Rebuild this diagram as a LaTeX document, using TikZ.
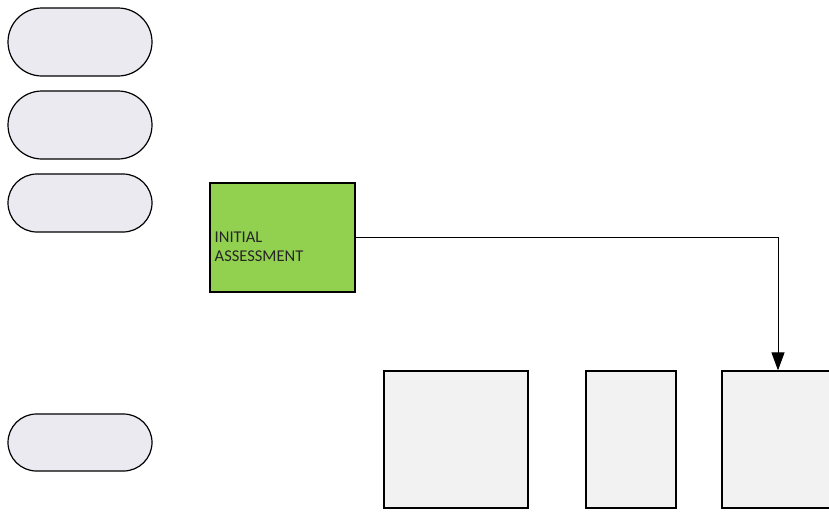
\documentclass[tikz,border=0pt]{standalone}
\usepackage{fontspec}
\setmainfont{Carlito}
\usetikzlibrary{shapes.misc,arrows.meta}
\definecolor{pill}{HTML}{ECEAF1}
\definecolor{boxgray}{HTML}{F2F2F2}
\definecolor{assess}{HTML}{92D050}
\tikzset{
  pillbox/.style={rounded rectangle, draw=black, fill=pill, line width=1.2pt, inner sep=0pt, minimum width=144pt},
  graybox/.style={rectangle, draw=black, fill=boxgray, line width=1.2pt, inner sep=0pt, minimum height=137pt},
  greenbox/.style={rectangle, draw=black, fill=assess, line width=1.2pt, inner sep=0pt, minimum width=145pt, minimum height=109pt},
  conn/.style={draw=black, line width=1pt, -{Triangle[length=18pt,width=13pt]}},
  lbl/.style={font=\fontsize{16.5}{19}\selectfont, align=left, anchor=west, inner sep=0pt, text=black!85}
}
\begin{document}
\begin{tikzpicture}[x=1pt,y=-1pt]
\useasboundingbox (0,0) rectangle (829,512);
\clip (0,0) rectangle (829,512);
\node[pillbox, minimum height=68pt] (p1) at (80,42) {};
\node[pillbox, minimum height=68pt] (p2) at (80,125) {};
\node[pillbox, minimum height=58pt] (p3) at (80,203) {};
\node[pillbox, minimum height=57pt] (p4) at (80,442.5) {};
\node[greenbox] (ia) at (282.5,237.5) {};
\node[lbl] (ialbl) at (214.5,246.5) {INITIAL\\ASSESSMENT};
\node[graybox, minimum width=144pt] (b1) at (456,439.5) {};
\node[graybox, minimum width=90pt] (b2) at (631,439.5) {};
\node[graybox, minimum width=112pt] (b3) at (778,439.5) {};
\draw[conn] (ia.east) -| (b3.north);
\end{tikzpicture}
\end{document}
